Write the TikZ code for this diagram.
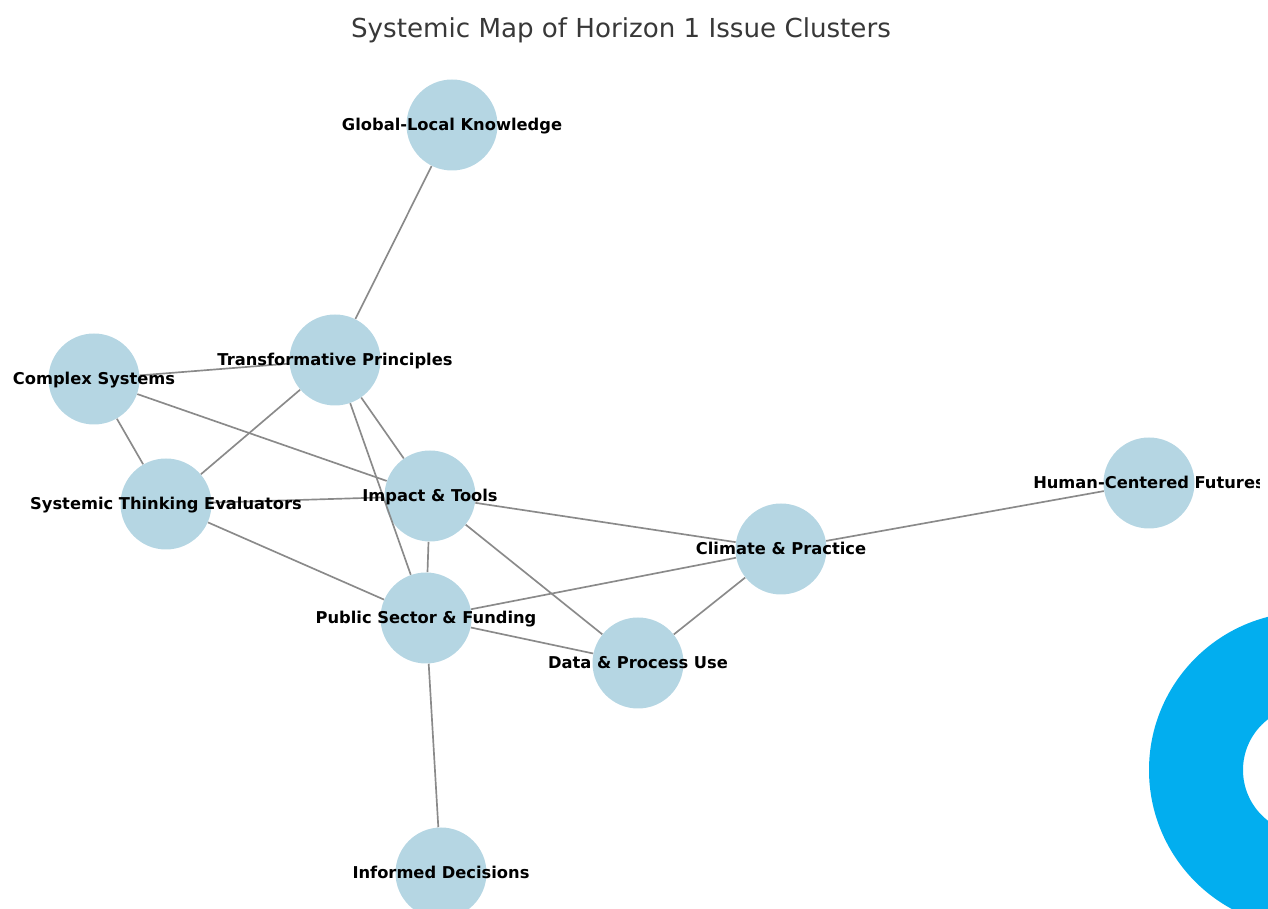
\documentclass[tikz,border=0pt]{standalone}
\usepackage{fontspec}
\setmainfont{DejaVu Sans}
\usepackage{tikz}
\definecolor{nodeblue}{RGB}{181,214,227}
\definecolor{ringblue}{RGB}{2,174,239}
\definecolor{titlegray}{RGB}{56,56,56}
\definecolor{edgegray}{RGB}{138,138,138}
\tikzset{
	cluster/.style={circle,fill=nodeblue,minimum size=1.82cm,inner sep=0pt},
	clusterlabel/.style={font=\fontsize{9.27}{12}\selectfont\bfseries,text=black,inner sep=0pt,anchor=base,yshift=-0.115cm},
	link/.style={draw=edgegray,line width=0.95pt}
}

\begin{document}
\begin{tikzpicture}
		\useasboundingbox (0,0) rectangle (25.36,18.18);
		\begin{scope}
		\clip (0,0) rectangle (25.36,18.18);
		\fill[ringblue,even odd rule] (26.14,2.78) circle (3.16cm) (26.14,2.78) circle (1.28cm);
		\node[cluster] (global) at (9.04,15.68) {};
		\node[cluster] (principles) at (6.70,10.98) {};
		\node[cluster] (complex) at (1.88,10.60) {};
		\node[cluster] (evaluators) at (3.32,8.10) {};
		\node[cluster] (impact) at (8.60,8.26) {};
		\node[cluster] (public) at (8.52,5.82) {};
		\node[cluster] (climate) at (15.62,7.20) {};
		\node[cluster] (human) at (22.98,8.52) {};
		\node[cluster] (data) at (12.76,4.92) {};
		\node[cluster] (informed) at (8.82,0.72) {};
		\end{scope}
		
		\draw[link] (global) -- (principles);
		\draw[link] (principles) -- (complex);
		\draw[link] (principles) -- (evaluators);
		\draw[link] (principles) -- (impact);
		\draw[link] (principles) -- (public);
		\draw[link] (complex) -- (evaluators);
		\draw[link] (complex) -- (impact);
		\draw[link] (evaluators) -- (impact);
		\draw[link] (evaluators) -- (public);
		\draw[link] (impact) -- (public);
		\draw[link] (impact) -- (climate);
		\draw[link] (impact) -- (data);
		\draw[link] (public) -- (climate);
		\draw[link] (public) -- (data);
		\draw[link] (public) -- (informed);
		\draw[link] (climate) -- (data);
		\draw[link] (climate) -- (human);
		
		\node[clusterlabel] (globallabel) at (global) {Global-Local Knowledge};
		\node[clusterlabel] (principleslabel) at (principles) {Transformative Principles};
		\node[clusterlabel] (complexlabel) at (complex) {Complex Systems};
		\node[clusterlabel] (evaluatorslabel) at (evaluators) {Systemic Thinking Evaluators};
		\node[clusterlabel] (impactlabel) at (impact) {Impact \& Tools};
		\node[clusterlabel] (publiclabel) at (public) {Public Sector \& Funding};
		\node[clusterlabel] (climatelabel) at (climate) {Climate \& Practice};
		\node[clusterlabel] (datalabel) at (data) {Data \& Process Use};
		\node[clusterlabel] (informedlabel) at (informed) {Informed Decisions};
		\begin{scope}
		\clip (20,7) rectangle (25.18,10);
		\node[clusterlabel] (humanlabel) at (human) {Human-Centered Futures};
		\end{scope}
		
		\node[font=\fontsize{14.87}{18}\selectfont,text=titlegray,inner sep=0pt] (title) at (12.42,17.57) {Systemic Map of Horizon 1 Issue Clusters};
\end{tikzpicture}
\end{document}
